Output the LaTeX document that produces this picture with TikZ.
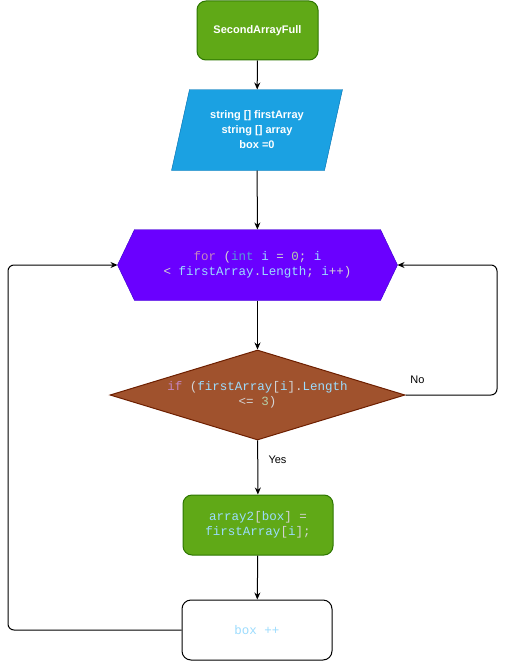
\documentclass[tikz,border=0pt]{standalone}
\usepackage{fontspec}
\setmainfont{Liberation Sans}
\setmonofont{Liberation Mono}
\usepackage{tikz}
\usetikzlibrary{shapes.geometric}
\usetikzlibrary{arrows.meta}
\usetikzlibrary{backgrounds}

\definecolor{greenfill}{HTML}{60A917}
\definecolor{greenline}{HTML}{2D7600}
\definecolor{bluefill}{HTML}{1BA1E2}
\definecolor{blueline}{HTML}{006EAF}
\definecolor{violetfill}{HTML}{6A00FF}
\definecolor{violetline}{HTML}{3700CC}
\definecolor{brownfill}{HTML}{A0522D}
\definecolor{brownline}{HTML}{6D1F00}
\definecolor{ckw}{HTML}{C586C0}
\definecolor{ctype}{HTML}{569CD6}
\definecolor{cvar}{HTML}{9CDCFE}
\definecolor{cnum}{HTML}{B5CEA8}
\definecolor{cpun}{HTML}{D4D4D4}

\newcommand{\codekw}[1]{\textcolor{ckw}{#1}}
\newcommand{\codetype}[1]{\textcolor{ctype}{#1}}
\newcommand{\codevar}[1]{\textcolor{cvar}{#1}}
\newcommand{\codenum}[1]{\textcolor{cnum}{#1}}
\newcommand{\codepun}[1]{\textcolor{cpun}{#1}}

\begin{document}
\begin{tikzpicture}[x=1pt,y=-1pt,line width=1pt]
\useasboundingbox (0,0) rectangle (506,661);
\begin{scope}[every node/.style={align=center,inner sep=0pt},
              green_box/.style={draw=greenline,fill=greenfill,rounded corners=9pt,
                                minimum width=121pt,minimum height=59pt},
              code/.style={font=\ttfamily\fontsize{12.5}{15.5}\selectfont}]
    \node (start) at (257.5, 30.5) [green_box,text=white,
        font=\bfseries\fontsize{11}{13}\selectfont] {SecondArrayFull};
    \node (input) at (257.0, 130.0) [minimum width=152pt,minimum height=80pt,text=white,
        font=\bfseries\fontsize{11}{15}\selectfont]
        {string [] firstArray\\string [] array\\box =0};
    \node (loop) at (257.5, 265.0) [code,minimum width=279pt,minimum height=70pt]
        {\codekw{for} \codepun{(}\codetype{int} \codevar{i} \codepun{=} \codenum{0}\codepun{;} \codevar{i}\\
         \codepun{<} \codevar{firstArray}\codepun{.}\codevar{Length}\codepun{;} \codevar{i}\codepun{++)}};
    \node (check) at (257.5, 395.0) [code,diamond,aspect=3.3,minimum width=295pt,
        minimum height=90pt,draw=brownline,fill=brownfill]
        {\codekw{if} \codepun{(}\codevar{firstArray}\codepun{[}\codevar{i}\codepun{].}\codevar{Length}\\
         \codepun{<=} \codenum{3}\codepun{)}};
    \node (copy) at (258.0, 525.0) [code,green_box,minimum width=150pt,minimum height=60pt]
        {\codevar{array2}\codepun{[}\codevar{box}\codepun{]} \codepun{=}\\
         \codevar{firstArray}\codepun{[}\codevar{i}\codepun{];}};
    \node (inc) at (257.0, 630.0) [code,draw=black,fill=white,rounded corners=9pt,
        minimum width=150pt,minimum height=60pt] {\codevar{box ++}};
    \coordinate (no_corner) at (497.0, 395.0);
    \coordinate (back_corner) at (8.0, 630.0);
\end{scope}
\begin{scope}[on background layer]
    \path [draw=blueline,fill=bluefill] ([xshift=9pt]input.north west)
        -- ([xshift=9pt]input.north east) -- ([xshift=-9pt]input.south east)
        -- ([xshift=-9pt]input.south west) -- cycle;
    \path [draw=violetline,fill=violetfill] (loop.west)
        -- ([xshift=17pt]loop.north west) -- ([xshift=-17pt]loop.north east)
        -- (loop.east) -- ([xshift=-17pt]loop.south east)
        -- ([xshift=17pt]loop.south west) -- cycle;
\end{scope}
\begin{scope}[>={Stealth[length=7pt,width=6pt]},
              flow_edge/.style={draw=black,line width=1pt},
              label_text/.style={font=\fontsize{11}{13}\selectfont,inner sep=0pt}]
    \path [->] (start) edge [flow_edge] (input);
    \path [->] (input) edge [flow_edge] (loop);
    \path [->] (loop) edge [flow_edge] (check);
    \path [->] (check) edge [flow_edge] (copy);
    \path [->] (copy) edge [flow_edge] (inc);
    \draw [->,flow_edge,rounded corners=6pt] (check.east) -- (no_corner) |- (loop.east);
    \draw [->,flow_edge,rounded corners=6pt] (inc.west) -- (back_corner) |- (loop.west);
    \node [label_text] (no_label) at (417.5, 380.0) {No};
    \node [label_text] (yes_label) at (277.5, 460.0) {Yes};
\end{scope}
\end{tikzpicture}
\end{document}
